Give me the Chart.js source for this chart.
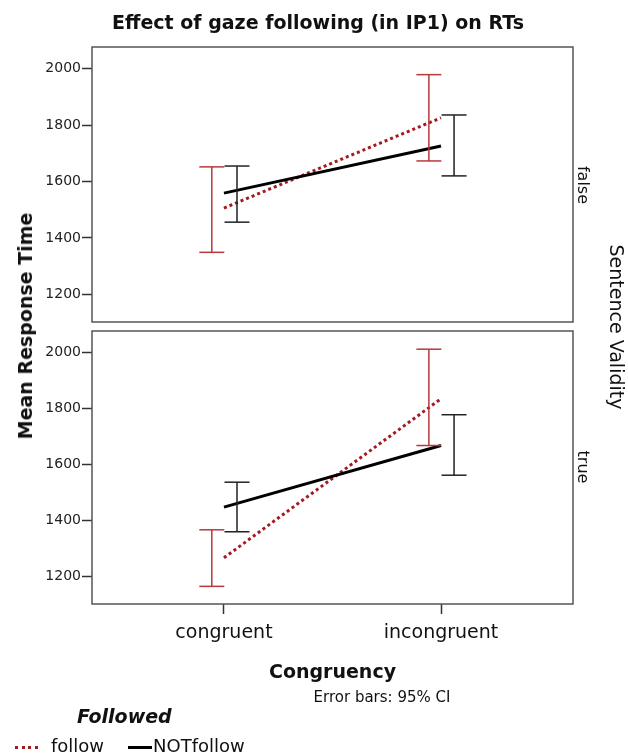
<!DOCTYPE html>
<html>
<head>
<meta charset="utf-8">
<script src="https://cdn.jsdelivr.net/npm/chart.js@4.4.1/dist/chart.umd.min.js"></script>
<style>
  body { margin: 0; background: #fff; font-family: "DejaVu Sans", sans-serif; }
  #wrap { position: relative; width: 628px; height: 756px; overflow: hidden; }
  canvas { position: absolute; left: 0; }
  .txt { position: absolute; white-space: nowrap; color: #111; transform: translate(-50%, -50%); }
  .leg { position: absolute; white-space: nowrap; color: #111; font-size: 18px; }
</style>
</head>
<body>
<div id="wrap">
  <canvas id="haut" width="628" height="340" style="top:0"></canvas>
  <canvas id="bas" width="628" height="441" style="top:315px"></canvas>

  <div class="txt" style="left:318px; top:22px; font-size:19px; font-weight:bold;">Effect of gaze following (in IP1) on RTs</div>
  <div class="txt" style="left:25px; top:326px; font-size:19px; font-weight:bold; transform:translate(-50%,-50%) rotate(-90deg);">Mean Response Time</div>
  <div class="txt" style="left:617px; top:327px; font-size:19px; transform:translate(-50%,-50%) rotate(90deg);">Sentence Validity</div>
  <div class="txt" id="lblFalse" style="left:583px; top:185px; font-size:16px; transform:translate(-50%,-50%) rotate(90deg);"></div>
  <div class="txt" id="lblTrue" style="left:583px; top:467px; font-size:16px; transform:translate(-50%,-50%) rotate(90deg);"></div>
  <div class="txt" style="left:382px; top:697px; font-size:15px;">Error bars: 95% CI</div>

  <div class="leg" style="left:77px; top:705px; font-size:19px; font-weight:bold; font-style:italic;">Followed</div>
  <div class="leg" style="left:15px; top:746px; width:23px; border-top:3px dotted #a3191f;"></div>
  <div class="leg" style="left:51px; top:735px;">follow</div>
  <div class="leg" style="left:128px; top:746px; width:24px; border-top:3px solid #000;"></div>
  <div class="leg" style="left:153px; top:735px;">NOTfollow</div>
</div>

<script>
const categories = ["congruent", "incongruent"];
const panels = ["false", "true"];
const yTicks = [1200, 1400, 1600, 1800, 2000];

// moyennes, Sentence Validity = false
const followFalse = [1506, 1826];
const notFollowFalse = [1559, 1726];
// moyennes, Sentence Validity = true
const followTrue = [1267, 1835];
const notFollowTrue = [1448, 1668];

// intervalles de confiance 95%
const followFalseLo = [1349, 1673];
const followFalseHi = [1652, 1979];
const notFollowFalseLo = [1456, 1620];
const notFollowFalseHi = [1655, 1836];
const followTrueLo = [1165, 1668];
const followTrueHi = [1367, 2012];
const notFollowTrueLo = [1360, 1562];
const notFollowTrueHi = [1537, 1778];

const rouge = "#a3191f";
const rougeBarre = "#b8383c";
const noir = "#000";

document.getElementById("lblFalse").textContent = panels[0];
document.getElementById("lblTrue").textContent = panels[1];

// une ligne par moyenne
function meanLine(vals, color, dash) {
  return {
    data: vals.map((v, i) => ({ x: i, y: v })),
    borderColor: color,
    borderWidth: 3,
    borderDash: dash,
    pointRadius: 0,
    fill: false,
  };
}

// barres d'erreur : trait vertical + deux "points" en forme de ligne
function errBars(lo, hi, shift, color) {
  const pts = [];
  for (let i = 0; i < lo.length; i++) {
    pts.push({ x: i + shift, y: lo[i] });
    pts.push({ x: i + shift, y: hi[i] });
    pts.push({ x: i + shift, y: null });
  }
  return {
    data: pts,
    borderColor: color,
    borderWidth: 1.5,
    pointStyle: "line",
    pointRadius: 12.5,
    pointBorderColor: color,
    pointBorderWidth: 1.5,
    spanGaps: false,
    fill: false,
  };
}

// cadre autour de la zone du graphique
const cadre = {
  id: "cadre",
  afterDraw(chart) {
    const a = chart.chartArea;
    const ctx = chart.ctx;
    ctx.save();
    ctx.strokeStyle = "#555";
    ctx.lineWidth = 1.5;
    ctx.strokeRect(a.left, a.top, a.right - a.left, a.bottom - a.top);
    ctx.restore();
  },
};

function makePanel(id, datasets, showX, padding) {
  const ctx = document.getElementById(id).getContext("2d");
  return new Chart(ctx, {
    type: "line",
    data: { datasets: datasets },
    plugins: [cadre],
    options: {
      responsive: false,
      animation: false,
      events: [],
      layout: { padding: padding },
      plugins: { legend: { display: false }, tooltip: { enabled: false } },
      scales: {
        x: {
          type: "linear",
          min: -0.608,
          max: 1.608,
          display: showX,
          afterBuildTicks: (s) => { s.ticks = categories.map((c, i) => ({ value: i })); },
          afterFit: (s) => { s.height = showX ? 80 : 0; },
          ticks: {
            callback: (v) => categories[v],
            font: { family: "DejaVu Sans", size: 19 },
            color: "#111",
            padding: 8,
            maxRotation: 0,
          },
          grid: { drawOnChartArea: false, tickLength: 10, tickColor: "#333", tickWidth: 1.5 },
          border: { display: false },
          title: {
            display: true,
            text: "Congruency",
            font: { family: "DejaVu Sans", size: 19, weight: "bold" },
            color: "#111",
            padding: { top: 0, bottom: 0 },
          },
        },
        y: {
          min: 1102,
          max: 2077,
          afterBuildTicks: (s) => { s.ticks = yTicks.map((v) => ({ value: v })); },
          afterFit: (s) => { s.width = 92; },
          ticks: {
            callback: (v) => String(v),
            font: { family: "DejaVu Sans", size: 14 },
            color: "#222",
            padding: 1,
          },
          grid: { drawOnChartArea: false, tickLength: 10, tickColor: "#333", tickWidth: 1.5 },
          border: { display: false },
        },
      },
    },
  });
}

document.addEventListener("DOMContentLoaded", () => {
  makePanel("haut", [
    errBars(followFalseLo, followFalseHi, -0.056, rougeBarre),
    errBars(notFollowFalseLo, notFollowFalseHi, 0.06, "#222"),
    meanLine(notFollowFalse, noir, []),
    meanLine(followFalse, rouge, [3, 3]),
  ], false, { top: 47, right: 55, bottom: 18, left: 0 });

  makePanel("bas", [
    errBars(followTrueLo, followTrueHi, -0.056, rougeBarre),
    errBars(notFollowTrueLo, notFollowTrueHi, 0.06, "#222"),
    meanLine(notFollowTrue, noir, []),
    meanLine(followTrue, rouge, [3, 3]),
  ], true, { top: 16, right: 55, bottom: 72, left: 0 });
});
</script>
</body>
</html>
